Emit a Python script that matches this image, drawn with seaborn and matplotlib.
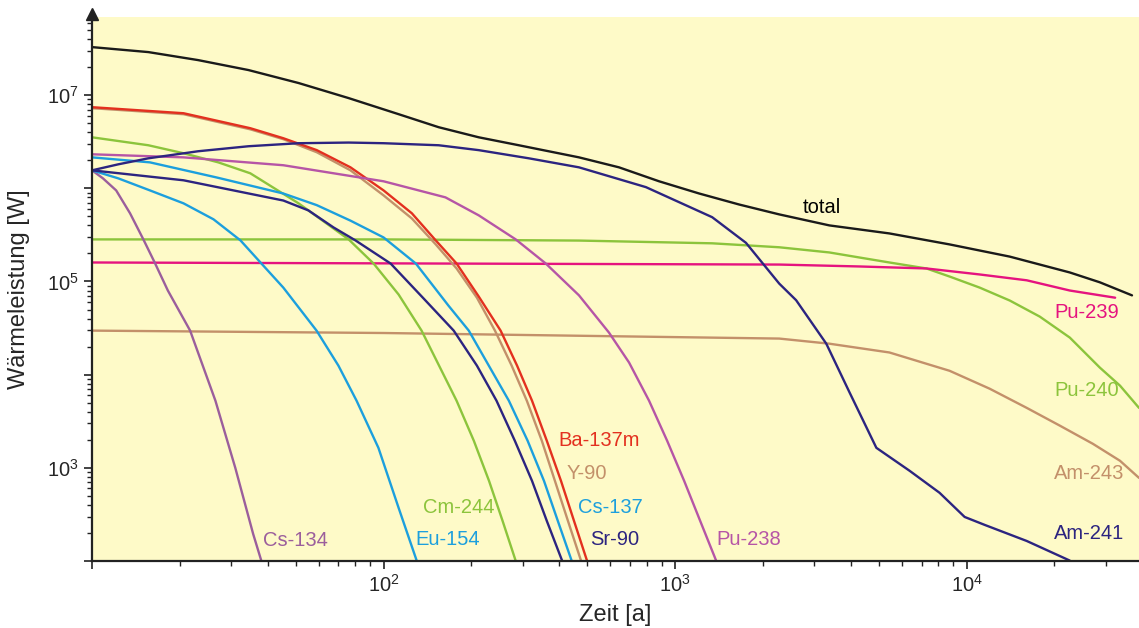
import numpy as np
import pandas as pd
import seaborn as sns
import matplotlib.pyplot as plt
from matplotlib.ticker import LogLocator, FuncFormatter, NullFormatter

sns.set_style('ticks')
plt.rcParams['font.family'] = ['Liberation Sans', 'DejaVu Sans']
plt.rcParams['mathtext.default'] = 'regular'

# Zeit [a] / Waermeleistung [W]
total_t = [10, 15.6, 23.1, 34.4, 51.1, 75.9, 112.6, 154.5, 212, 291, 468, 642, 881, 1209, 1659,
           2276, 3381, 5433, 8740, 14050, 22580, 28630, 36900]
total_w = [3.28e7, 2.9e7, 2.38e7, 1.86e7, 1.35e7, 9.3e6, 6.25e6, 4.53e6, 3.53e6, 2.9e6, 2.15e6, 1.68e6,
           1.19e6, 8.8e5, 6.7e5, 5.25e5, 4.0e5, 3.28e5, 2.5e5, 1.85e5, 1.25e5, 9.8e4, 7.1e4]

am241_t = [10, 12.3, 15.6, 23.1, 34.4, 51.1, 75.9, 100, 154.5, 212, 315, 468, 794, 1340, 1750,
           2275, 2600, 3300, 3960, 4900, 6370, 8070, 9840, 11530, 16070, 22580]
am241_w = [1.56e6, 1.81e6, 2.1e6, 2.5e6, 2.83e6, 3.05e6, 3.1e6, 3.05e6, 2.9e6, 2.57e6, 2.1e6, 1.68e6,
           1.03e6, 4.9e5, 2.6e5, 9.5e4, 6.3e4, 2.15e4, 6500, 1640, 930, 540, 297, 244, 164, 101]

pu240_t = [10, 100, 468, 1340, 2276, 3381, 4286, 5433, 7280, 8740, 11080, 14050, 17810, 22580,
           28630, 33570, 39000]
pu240_w = [2.83e5, 2.83e5, 2.75e5, 2.57e5, 2.33e5, 2.05e5, 1.81e5, 1.6e5, 1.38e5, 1.13e5, 8.6e4,
           6.25e4, 4.2e4, 2.5e4, 1.19e4, 7620, 4400]

pu239_t = [10, 2276, 4286, 7280, 11080, 16070, 22580, 32300]
pu239_w = [1.6e5, 1.52e5, 1.45e5, 1.38e5, 1.19e5, 1.03e5, 8.0e4, 6.7e4]

am243_t = [10, 100, 2276, 3381, 5433, 8740, 12000, 16070, 20900, 27100, 33570, 39000]
am243_w = [2.97e4, 2.8e4, 2.44e4, 2.15e4, 1.73e4, 1.1e4, 7060, 4400, 2830, 1810, 1190, 780]

cs134_t = [10, 10.9, 12.1, 13.5, 15, 16.4, 18.2, 21.7, 26.5, 31.0, 35.7, 38.1]
cs134_w = [1.56e6, 1.28e6, 9.5e5, 5.4e5, 2.83e5, 1.6e5, 8.0e4, 2.97e4, 5250, 1000, 195, 100]

eu154_t = [10, 12.3, 15.8, 20.6, 26.1, 32.3, 38.1, 45.3, 58.9, 70, 80.8, 96, 112.6, 130]
eu154_w = [1.56e6, 1.28e6, 9.5e5, 6.9e5, 4.65e5, 2.76e5, 1.56e5, 8.6e4, 2.97e4, 1.25e4, 5250, 1640,
           372, 100]

cs137_t = [10, 15.8, 26.7, 45.3, 59, 77, 100, 129, 167, 196, 269, 312, 355, 396, 442]
cs137_w = [2.15e6, 1.9e6, 1.31e6, 8.8e5, 6.6e5, 4.5e5, 2.97e5, 1.56e5, 5.5e4, 2.97e4, 5250, 1950,
           724, 269, 100]

sr90_t = [10, 20.6, 45.3, 55.2, 67.3, 80.1, 105.7, 137, 174, 209, 244, 282, 323, 363, 410]
sr90_w = [1.56e6, 1.22e6, 7.4e5, 5.8e5, 3.81e5, 2.76e5, 1.56e5, 6.6e4, 2.97e4, 1.25e4, 5250, 1950,
          724, 269, 100]

ba137m_t = [10, 20.6, 34.9, 45.3, 59, 77, 100, 125, 151, 178, 212, 252, 287, 323, 363, 406, 450, 499]
ba137m_w = [7.43e6, 6.4e6, 4.42e6, 3.45e6, 2.57e6, 1.68e6, 9.5e5, 5.4e5, 2.76e5, 1.56e5, 6.9e4,
            2.97e4, 1.25e4, 5250, 1950, 724, 269, 100]

y90_t = [10, 20.6, 34.9, 45.3, 59, 77, 100, 125, 151, 178, 209, 241, 275, 310, 349, 387, 429, 476]
y90_w = [7.25e6, 6.25e6, 4.3e6, 3.37e6, 2.44e6, 1.56e6, 8.4e5, 4.75e5, 2.5e5, 1.38e5, 6.7e4,
         2.97e4, 1.25e4, 5250, 1950, 724, 269, 100]

cm244_t = [10, 15.6, 20.6, 27.1, 34.9, 51.1, 75.9, 92.4, 112.6, 135, 178, 204, 230, 256, 284]
cm244_w = [3.53e6, 2.9e6, 2.38e6, 1.9e6, 1.45e6, 6.9e5, 2.83e5, 1.56e5, 7.25e4, 2.97e4, 5250, 1950,
           724, 269, 100]

pu238_t = [10, 20.6, 45.3, 100, 163, 212, 284, 360, 468, 593, 695, 814, 939, 1074, 1219, 1384]
pu238_w = [2.32e6, 2.15e6, 1.77e6, 1.19e6, 8.0e5, 5.13e5, 2.83e5, 1.56e5, 7.1e4, 2.83e4, 1.35e4,
           5250, 1950, 724, 269, 100]

series = {
    'Pu-240': (pu240_t, pu240_w),
    'Pu-239': (pu239_t, pu239_w),
    'Am-243': (am243_t, am243_w),
    'Cs-134': (cs134_t, cs134_w),
    'Eu-154': (eu154_t, eu154_w),
    'Cm-244': (cm244_t, cm244_w),
    'Sr-90': (sr90_t, sr90_w),
    'Cs-137': (cs137_t, cs137_w),
    'Y-90': (y90_t, y90_w),
    'Ba-137m': (ba137m_t, ba137m_w),
    'Pu-238': (pu238_t, pu238_w),
    'Am-241': (am241_t, am241_w),
    'total': (total_t, total_w),
}

colors = {
    'total': '#1a1a1a',
    'Am-241': '#2c2480',
    'Sr-90': '#2c2480',
    'Pu-240': '#8cc43c',
    'Cm-244': '#8cc43c',
    'Pu-239': '#e5137f',
    'Am-243': '#c3906a',
    'Y-90': '#c3906a',
    'Ba-137m': '#e3301f',
    'Cs-137': '#1c9fdd',
    'Eu-154': '#1c9fdd',
    'Cs-134': '#9b5e9c',
    'Pu-238': '#b655a6',
}

rows = []
for name, (t, w) in series.items():
    for ti, wi in zip(t, w):
        rows.append((name, ti, wi))
df = pd.DataFrame(rows, columns=['Nuklid', 'Zeit', 'Leistung'])

fig = plt.figure(figsize=(11.39, 6.28), dpi=100)
ax = fig.add_axes([0.0808, 0.1067, 0.9192, 0.8662])
ax.set_facecolor('#fefac8')

sns.lineplot(data=df, x='Zeit', y='Leistung', hue='Nuklid', palette=colors,
             estimator=None, sort=False, legend=False, linewidth=1.7, ax=ax)

ax.set_xscale('log')
ax.set_yscale('log')
ax.set_xlim(10, 3.9e4)
ax.set_ylim(100, 6.9e7)

# labels next to the curves
labels = [
    ('total', 2730, 6.25e5, 'black'),
    ('Pu-239', 20000, 4.6e4, colors['Pu-239']),
    ('Pu-240', 20000, 6700, colors['Pu-240']),
    ('Am-243', 20000, 880, colors['Am-243']),
    ('Am-241', 20000, 195, colors['Am-241']),
    ('Ba-137m', 399, 1950, colors['Ba-137m']),
    ('Y-90', 425, 860, colors['Y-90']),
    ('Cs-137', 466, 372, colors['Cs-137']),
    ('Sr-90', 512, 170, colors['Sr-90']),
    ('Cm-244', 136, 372, colors['Cm-244']),
    ('Eu-154', 129, 170, colors['Eu-154']),
    ('Cs-134', 38.5, 165, colors['Cs-134']),
    ('Pu-238', 1380, 170, colors['Pu-238']),
]
for txt, x, y, c in labels:
    ax.text(x, y, txt, color=c, fontsize=14.5, ha='left', va='center')

def fmt_x(v, _):
    e = int(round(np.log10(v)))
    return f'$10^{{{e}}}$' if e >= 2 else ''

def fmt_y(v, _):
    e = int(round(np.log10(v)))
    return f'$10^{{{e}}}$' if e % 2 == 1 else ''

ax.xaxis.set_major_locator(LogLocator(base=10, numticks=10))
ax.xaxis.set_minor_locator(LogLocator(base=10, subs=np.arange(2, 10), numticks=20))
ax.yaxis.set_major_locator(LogLocator(base=10, numticks=12))
ax.yaxis.set_minor_locator(LogLocator(base=10, subs=np.arange(2, 10), numticks=20))
ax.xaxis.set_major_formatter(FuncFormatter(fmt_x))
ax.yaxis.set_major_formatter(FuncFormatter(fmt_y))
ax.xaxis.set_minor_formatter(NullFormatter())
ax.yaxis.set_minor_formatter(NullFormatter())
ax.tick_params(which='major', length=6, width=1.2, labelsize=14.5, color='#222222', direction='out')
ax.tick_params(which='minor', length=3.5, width=1.0, color='#222222', direction='out')

sns.despine(ax=ax)
for s in ['left', 'bottom']:
    ax.spines[s].set_linewidth(1.6)
    ax.spines[s].set_color('#222222')
ax.plot(0, 1.005, marker='^', markersize=9, color='#222222', transform=ax.transAxes, clip_on=False)

ax.set_xlabel('Zeit [a]', fontsize=17, labelpad=6)
ax.set_ylabel('Wärmeleistung [W]', fontsize=17, labelpad=12)

fig.savefig('out.png', dpi=100)
